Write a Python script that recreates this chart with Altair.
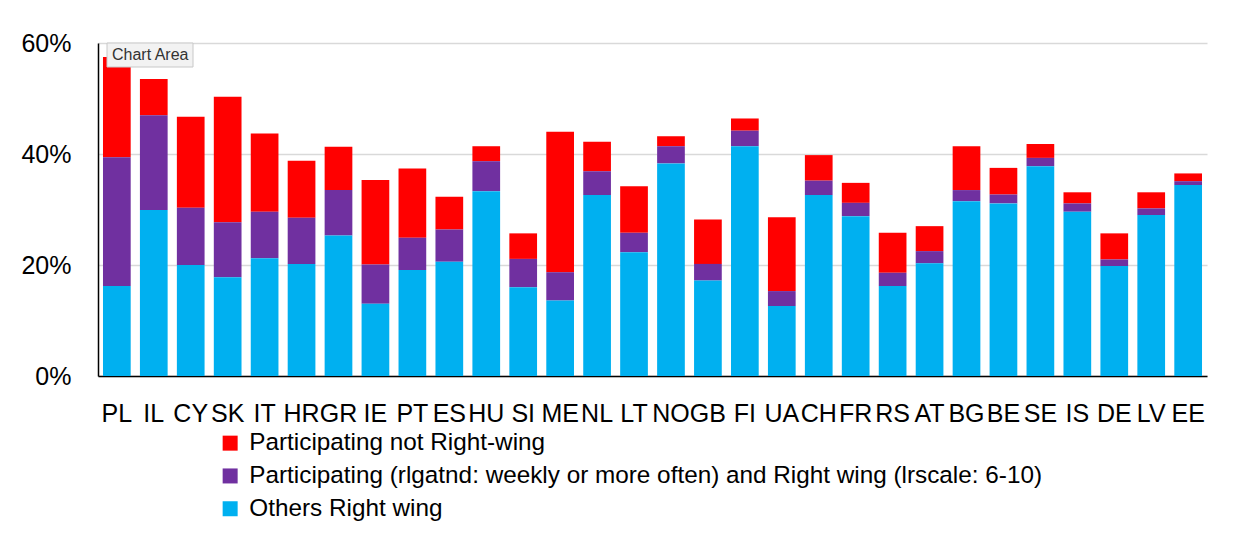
import altair as alt
import pandas as pd

countries = ["PL", "IL", "CY", "SK", "IT", "HR", "GR", "IE", "PT", "ES",
             "HU", "SI", "ME", "NL", "LT", "NO", "GB", "FI", "UA", "CH",
             "FR", "RS", "AT", "BG", "BE", "SE", "IS", "DE", "LV", "EE"]

# segment heights in percent
others_right = [16.2, 29.9, 20.0, 17.8, 21.2, 20.2, 25.3, 13.0, 19.1, 20.6,
                33.3, 16.0, 13.6, 32.6, 22.3, 38.3, 17.2, 41.4, 12.6, 32.6,
                28.8, 16.2, 20.3, 31.5, 31.1, 37.8, 29.6, 19.8, 29.0, 34.4]
participating_right = [23.2, 17.1, 10.3, 9.9, 8.4, 8.3, 8.2, 7.1, 5.8, 5.8,
                       5.4, 5.1, 5.1, 4.3, 3.5, 3.1, 3.0, 2.8, 2.7, 2.6,
                       2.4, 2.4, 2.2, 2.0, 1.6, 1.5, 1.5, 1.2, 1.2, 0.7]
participating_not_right = [18.1, 6.5, 16.4, 22.6, 14.1, 10.3, 7.8, 15.2, 12.5, 5.9,
                           2.7, 4.6, 25.3, 5.3, 8.4, 1.8, 8.0, 2.2, 13.3, 4.6,
                           3.6, 7.2, 4.5, 7.9, 4.8, 2.5, 2.0, 4.7, 2.9, 1.4]

series_names = [
    "Participating not Right-wing",
    "Participating (rlgatnd: weekly or more often) and Right wing (lrscale: 6-10)",
    "Others Right wing",
]
series_colors = ["#FF0000", "#7030A0", "#00B0F0"]
series_values = [participating_not_right, participating_right, others_right]
stack_order = [2, 1, 0]

rows = []
for name, vals, order in zip(series_names, series_values, stack_order):
    for c, v in zip(countries, vals):
        rows.append({"country": c, "series": name, "value": v / 100.0, "order": order})
df = pd.DataFrame(rows)

FONT = "Liberation Sans"

bars = alt.Chart(df).mark_bar(strokeWidth=0).encode(
    x=alt.X("country:N", sort=countries, title=None,
            scale=alt.Scale(paddingInner=0.25, paddingOuter=0.135),
            axis=alt.Axis(labelAngle=0, ticks=False, labelPadding=25,
                          labelFontSize=25, labelFont=FONT, labelColor="#000000",
                          domainColor="#000000", domainWidth=1.5, grid=False)),
    y=alt.Y("value:Q", stack="zero", title=None,
            scale=alt.Scale(domain=[0, 0.6], nice=False),
            axis=alt.Axis(values=[0, 0.2, 0.4, 0.6], format=".0%", ticks=False,
                          labelPadding=27, labelFontSize=25, labelFont=FONT,
                          labelColor="#000000", domainColor="#000000",
                          domainWidth=1.5, gridColor="#d9d9d9", gridWidth=1.5)),
    color=alt.Color("series:N", sort=series_names,
                    scale=alt.Scale(domain=series_names, range=series_colors),
                    legend=alt.Legend(title=None, orient="none", legendX=120, legendY=388,
                                      symbolType="square", symbolSize=225,
                                      symbolStrokeWidth=0, labelFontSize=24.3,
                                      labelFont=FONT, labelColor="#000000",
                                      labelLimit=1000, labelOffset=7, rowPadding=7.8,
                                      padding=0)),
    order=alt.Order("order:Q", sort="ascending"),
)

tip_df = pd.DataFrame({"label": ["Chart Area"]})
tip_box = alt.Chart(tip_df).mark_rect(fill="#f2f2f2", stroke="#c8c8c8", strokeWidth=1).encode(
    x=alt.value(9), x2=alt.value(95), y=alt.value(0), y2=alt.value(24)
)
tip_text = alt.Chart(tip_df).mark_text(align="left", baseline="middle", fontSize=16,
                                       font=FONT, color="#333333").encode(
    x=alt.value(14), y=alt.value(12), text="label:N"
)

chart = alt.layer(bars, tip_box, tip_text).properties(
    width=1109, height=333,
    background="#ffffff",
    autosize=alt.AutoSizeParams(type="none"),
    padding={"left": 90, "top": 35, "right": 20, "bottom": 150},
).configure_view(strokeWidth=0, stroke="transparent")

chart.save("out.html", embed_options={"renderer": "svg", "actions": False})
